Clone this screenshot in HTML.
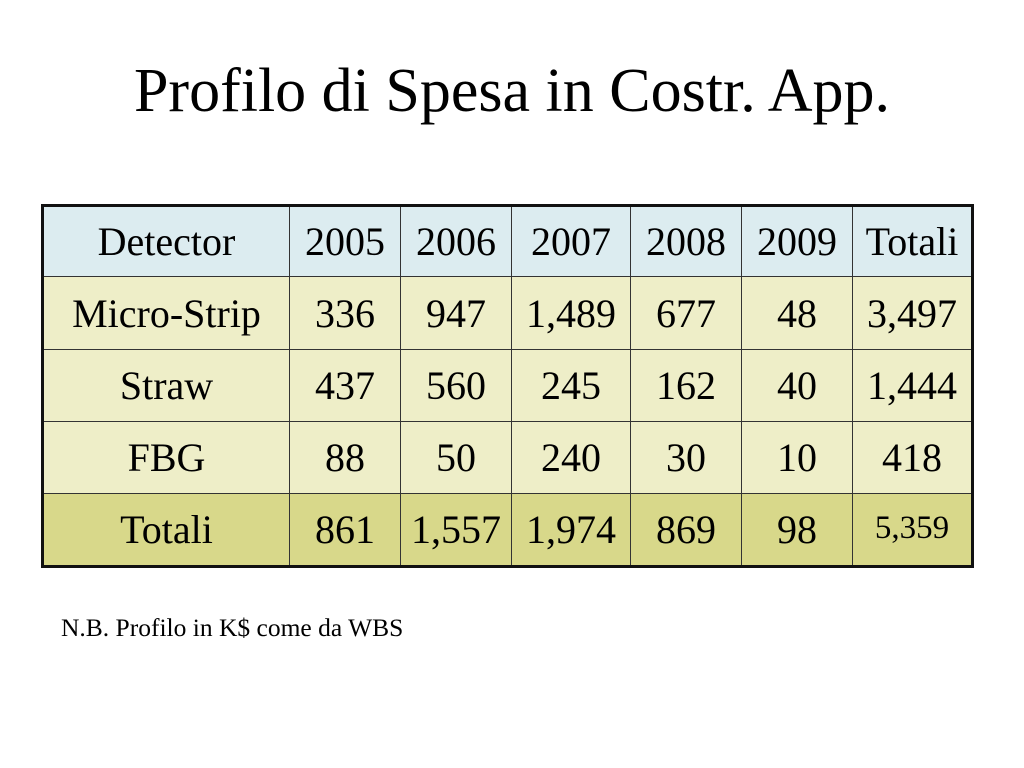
<!DOCTYPE html>
<html><head><meta charset="utf-8"><style>
body{margin:0;width:1024px;height:768px;background:#fff;font-family:"Liberation Serif",serif;position:relative;overflow:hidden}
.t{position:absolute;left:0;width:1024px;top:56px;text-align:center;font-size:62px;color:#000}
.c{position:absolute;display:flex;align-items:center;justify-content:center;font-size:40px;color:#000;box-sizing:border-box;border-right:1.5px solid #333;border-bottom:1.5px solid #333}
#tbl{position:absolute;left:41px;top:204px;width:933px;height:364px;border:3px solid #111;box-sizing:border-box}
.n{position:absolute;left:61px;top:613px;font-size:25.5px}
</style></head><body>
<div class="t">Profilo di Spesa in Costr. App.</div>
<div id="tbl"></div>
<div class="n">N.B. Profilo in K$ come da WBS</div>
<script>
const cols=[44,290,401,512,631,742,853,971];
const rowsY=[207,277,350,422,494,565];
const header=["Detector","2005","2006","2007","2008","2009","Totali"];
const microStrip=["Micro-Strip","336","947","1,489","677","48","3,497"];
const straw=["Straw","437","560","245","162","40","1,444"];
const fbg=["FBG","88","50","240","30","10","418"];
const totals=["Totali","861","1,557","1,974","869","98","5,359"];
const rows=[header,microStrip,straw,fbg,totals];
const bgs=["#dcecf0","#eeeec8","#eeeec8","#eeeec8","#d8d88a"];
const names=["header","micro-strip","straw","fbg","totals"];
rows.forEach((r,ri)=>{r.forEach((v,ci)=>{
const d=document.createElement('div');
d.className='c';


d.style.left=cols[ci]+'px';d.style.top=rowsY[ri]+'px';
d.style.width=(cols[ci+1]-cols[ci])+'px';d.style.height=(rowsY[ri+1]-rowsY[ri])+'px';
d.style.background=bgs[ri];
if(ci==6)d.style.borderRight='none';
if(ri==4)d.style.borderBottom='none';
if(ri==4&&ci==6){d.style.fontSize='33px';d.style.alignItems='flex-start';d.style.paddingTop='16px';}
d.textContent=v;document.body.appendChild(d);});});
</script>
</body></html>
